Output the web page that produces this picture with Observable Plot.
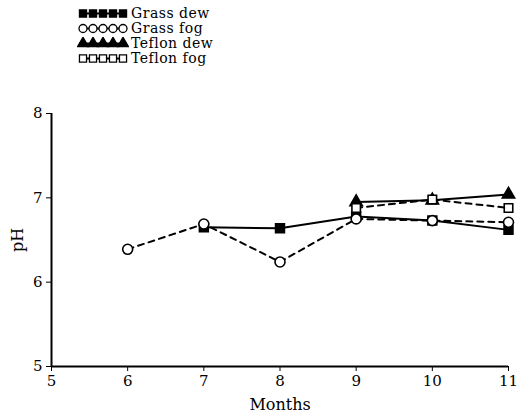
<!DOCTYPE html>
<html><head><meta charset="utf-8">
<script src="https://cdn.jsdelivr.net/npm/d3@7"></script>
<script src="https://cdn.jsdelivr.net/npm/@observablehq/plot@0.6"></script>
<style>
body{margin:0;background:#fff;}
#wrap{position:relative;width:520px;height:414px;font-family:"DejaVu Serif",serif;}
#chart{position:absolute;left:0;top:0;}
#legend{position:absolute;left:77px;top:6px;z-index:2;}
.row{display:flex;align-items:center;height:15px;font-size:14px;line-height:15px;letter-spacing:0.5px;color:#000;}
.row svg{margin-right:2px;}
</style></head><body><div id="wrap"><div id="chart"></div><div id="legend"></div></div>
<script>
const months = [6, 7, 8, 9, 10, 11];
const seriesNames = ["Grass dew", "Grass fog", "Teflon dew", "Teflon fog"];
const grassDew  = [null, 6.65, 6.64, 6.78, 6.73, 6.62];
const grassFog  = [6.39, 6.69, 6.24, 6.75, 6.73, 6.71];
const teflonDew = [null, null, null, 6.95, 6.97, 7.04];
const teflonFog = [null, null, null, 6.88, 6.98, 6.88];
const xTicks = [5, 6, 7, 8, 9, 10, 11];
const yTicks = [5, 6, 7, 8];

const values = [grassDew, grassFog, teflonDew, teflonFog];
const styles = [
  {dash: null, symbol: "square", fill: "black", r: 5, lr: 4},
  {dash: "6,5", symbol: "circle", fill: "white", r: 5, lr: 4},
  {dash: null, symbol: "triangle", fill: "black", r: 4.6, lr: 4},
  {dash: "6,5", symbol: "square", fill: "white", r: 4.8, lr: 4}
];

const series = seriesNames.map((name, i) => ({
  name, style: styles[i],
  data: months.map((m, j) => ({month: m, pH: values[i][j]})).filter(d => d.pH != null)
}));

const lineMarks = series.map(s => Plot.line(s.data, {
  x: "month", y: "pH", stroke: "black", strokeWidth: 2,
  strokeDasharray: s.style.dash || undefined
}));
const dotMarks = series.map(s => Plot.dot(s.data, {
  x: "month", y: "pH", symbol: s.style.symbol, r: s.style.r,
  fill: s.style.fill, stroke: "black", strokeWidth: 1.6
}));

const plot = Plot.plot({
  width: 520, height: 414,
  marginTop: 113, marginBottom: 48, marginLeft: 51, marginRight: 12,
  style: {fontFamily: "DejaVu Serif, serif", fontSize: "15px", background: "white", color: "black"},
  x: {domain: [5, 11]},
  y: {domain: [5, 8]},
  marks: [
    Plot.axisX({ticks: xTicks, tickSize: 5, tickPadding: 4, tickFormat: d => String(d), fontSize: 15,
      label: null}),
    Plot.axisX({ticks: [], label: "Months", labelAnchor: "center", labelArrow: "none", labelOffset: 43, fontSize: 16}),
    Plot.axisY({ticks: yTicks, tickSize: 5, tickPadding: 4, tickFormat: d => String(d), fontSize: 15,
      label: null}),
    Plot.axisY({ticks: [], label: "pH", labelAnchor: "center", labelArrow: "none", labelOffset: 40, fontSize: 16}),
    Plot.ruleX([5], {strokeWidth: 2}),
    Plot.ruleY([5], {strokeWidth: 2}),
    ...lineMarks,
    ...dotMarks
  ]
});
document.getElementById("chart").appendChild(plot);

// legend
const legend = d3.select("#legend");
const symMap = {square: d3.symbolSquare, circle: d3.symbolCircle, triangle: d3.symbolTriangle};
series.forEach(s => {
  const row = legend.append("div").attr("class", "row");
  const svg = row.append("svg").attr("width", 52).attr("height", 13);
  svg.append("line").attr("x1", 2).attr("x2", 50).attr("y1", 6.5).attr("y2", 6.5)
    .attr("stroke", "black").attr("stroke-width", 2);
  const n = 5;
  for (let k = 0; k < n; k++) {
    const cx = 6 + k * 10;
    svg.append("path")
      .attr("transform", `translate(${cx},6.5)`)
      .attr("d", d3.symbol(symMap[s.style.symbol], Math.PI * s.style.lr * s.style.lr)())
      .attr("fill", s.style.fill).attr("stroke", "black").attr("stroke-width", 1.3);
  }
  row.append("span").text(s.name);
});
</script></body></html>
